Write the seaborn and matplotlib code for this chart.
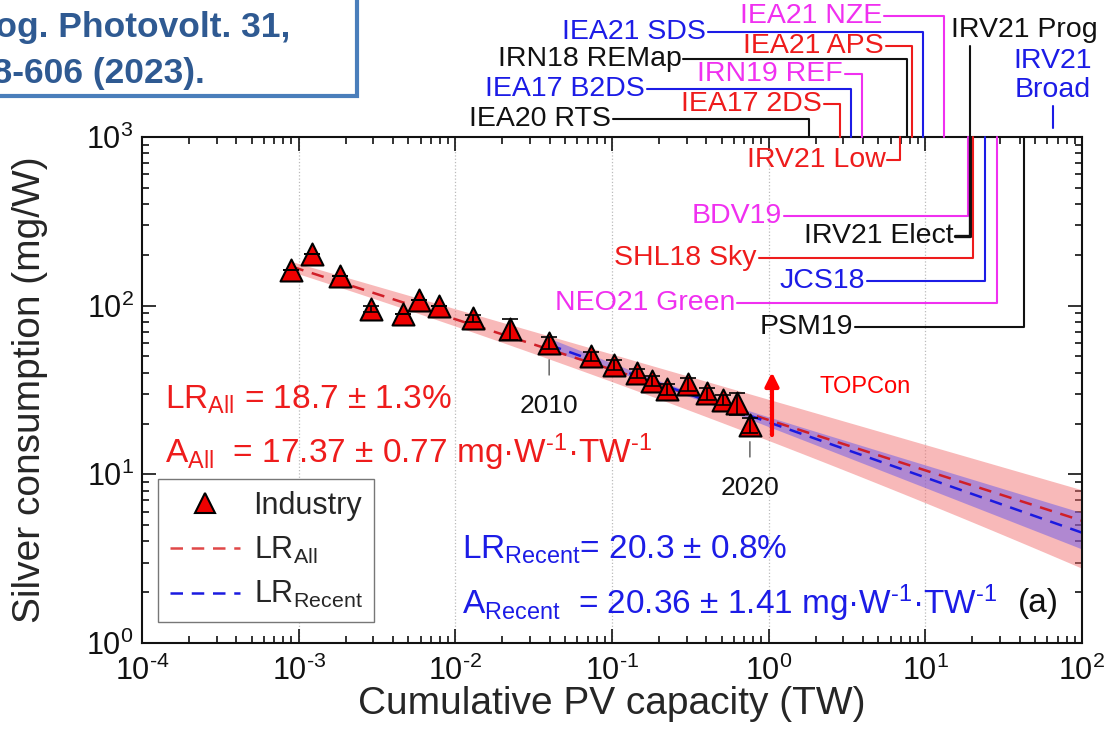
import numpy as np
import pandas as pd
import seaborn as sns
import matplotlib.pyplot as plt
from matplotlib import transforms
from matplotlib.lines import Line2D
from matplotlib.patches import Rectangle
from matplotlib.ticker import FuncFormatter, NullFormatter

# ---------------------------------------------------------------------------
# Industry data: cumulative PV capacity (TW) vs. silver consumption (mg/W)
# ---------------------------------------------------------------------------
capacity_tw = [9.0e-4, 1.21e-3, 1.84e-3, 2.89e-3, 4.61e-3, 5.89e-3, 7.89e-3,
               0.0130, 0.0223, 0.0397, 0.0733, 0.103, 0.144, 0.179, 0.225,
               0.306, 0.402, 0.513, 0.624, 0.759]
silver_mg_w = [162, 202, 150, 96, 89, 108, 99, 84, 73, 60, 50, 44.5, 39.7,
               35.9, 31.9, 34.3, 30.2, 27.6, 26.4, 19.6]
silver_err = [0, 0, 0, 4, 0, 0, 0, 4, 10, 5, 3, 3, 2.5, 2.5, 2.5, 3, 2.5, 2,
              4, 2]
year_labels = {2010: 0.0397, 2020: 0.759}

# Learning-rate fits
LR_ALL, LR_ALL_ERR = 18.7, 1.3
A_ALL, A_ALL_ERR = 17.37, 0.77
LR_RECENT, LR_RECENT_ERR = 20.3, 0.8
A_RECENT, A_RECENT_ERR = 20.36, 1.41
ALL_LEVEL_1TW = 21.0          # level of the all-data fit line at 1 TW
ALL_FIT_START = 9.0e-4        # first point of the all-data fit (TW)
RECENT_FIT_START = 0.0397     # first point of the recent fit (TW)
FIT_END = 100.0

# TOPCon marker
TOPCON_TW = 1.05
TOPCON_FROM, TOPCON_TO = 17.1, 40.3

# Scenario projections of cumulative PV capacity (TW)
scenario_names = ["IEA20 RTS", "IEA17 2DS", "IEA17 B2DS", "IRN19 REF",
                  "IRV21 Low", "IRN18 REMap", "IEA21 APS", "IEA21 SDS",
                  "IEA21 NZE", "BDV19", "IRV21 Prog", "IRV21 Elect",
                  "SHL18 Sky", "JCS18", "NEO21 Green", "PSM19", "IRV21 Broad"]
scenario_tw = [1.82, 2.85, 3.34, 3.97, 6.88, 7.67, 8.17, 9.73, 13.1, 18.7,
               19.4, 19.4, 20.1, 24.0, 28.7, 42.5, 65.0]

RED = "#ee1c1c"
BLUE = "#1c1ce6"
MAGENTA = "#f030f0"
BLACK = "#111111"
HY = "\u2010"  # short hyphen used in exponents
scenario_colors = [BLACK, RED, BLUE, MAGENTA, RED, BLACK, RED, BLUE, MAGENTA,
                   MAGENTA, BLACK, BLACK, RED, BLUE, MAGENTA, BLACK, BLUE]

# label placement: (text right edge in axes x, label height in axes y)
scenario_layout = {
    "IEA21 NZE": (0.787, 1.240), "IEA21 SDS": (0.600, 1.208),
    "IEA21 APS": (0.789, 1.180), "IRN18 REMap": (0.574, 1.154),
    "IRN19 REF": (0.746, 1.124), "IEA17 B2DS": (0.535, 1.095),
    "IEA17 2DS": (0.723, 1.065), "IEA20 RTS": (0.499, 1.0355),
    "IRV21 Low": (0.791, 0.955), "BDV19": (0.681, 0.844),
    "IRV21 Elect": (0.863, 0.804), "SHL18 Sky": (0.654, 0.761),
    "JCS18": (0.769, 0.715), "NEO21 Green": (0.631, 0.672),
    "PSM19": (0.757, 0.625),
}

# ---------------------------------------------------------------------------
sns.set_style("ticks")
plt.rcParams["font.family"] = ["Liberation Sans", "DejaVu Sans"]
plt.rcParams["mathtext.fontset"] = "custom"
plt.rcParams["mathtext.rm"] = "Liberation Sans"
plt.rcParams["mathtext.it"] = "Liberation Sans:italic"
plt.rcParams["mathtext.bf"] = "Liberation Sans:bold"
plt.rcParams["axes.unicode_minus"] = False

fig = plt.figure(figsize=(11.2, 7.35), dpi=100)
ax = fig.add_axes([142 / 1120, 92 / 735, 940 / 1120, 506 / 735])
ax.set_xscale("log")
ax.set_yscale("log")
ax.set_xlim(1e-4, 1e2)
ax.set_ylim(1, 1e3)

# fitted learning curves and uncertainty bands
b_all = -np.log2(1 - LR_ALL / 100)
b_rec = -np.log2(1 - LR_RECENT / 100)

x_all = np.logspace(np.log10(ALL_FIT_START), np.log10(FIT_END), 200)
y_all = ALL_LEVEL_1TW * x_all ** (-b_all)
d_all = np.log10(x_all) - np.log10(ALL_FIT_START)
up_all = 0.03 + 0.0303 * d_all
lo_all = 0.03 + 0.0099 * d_all ** 2
ax.fill_between(x_all, y_all * 10 ** up_all, y_all / 10 ** lo_all,
                color="#f26a6a", alpha=0.47, lw=0, zorder=1)

x_rec = np.logspace(np.log10(RECENT_FIT_START), np.log10(FIT_END), 200)
y_rec = A_RECENT * x_rec ** (-b_rec)
w_rec = np.sqrt(0.015 ** 2 + (0.041 * (np.log10(x_rec) + 0.6)) ** 2)
ax.fill_between(x_rec, y_rec * 10 ** (w_rec * 1.1), y_rec / 10 ** (w_rec * 0.9),
                color="#5a4ef0", alpha=0.45, lw=0, zorder=1.5)

dash = (0, (5, 3.5))
sns.lineplot(x=x_all, y=y_all, color="#d01f28", lw=1.8, linestyle=dash,
             sort=False, ax=ax, zorder=2)
sns.lineplot(x=x_rec, y=y_rec, color="#1a1ae0", lw=1.8, linestyle=dash,
             sort=False, ax=ax, zorder=2.5)

# industry points
df = pd.DataFrame({"capacity": capacity_tw, "silver": silver_mg_w,
                   "err": silver_err})
sns.scatterplot(data=df, x="capacity", y="silver", marker="^", s=250,
                color="#ee0000", edgecolor="black", linewidth=1.5,
                zorder=5, ax=ax, legend=False)
ax.errorbar(df["capacity"], df["silver"], yerr=df["err"], fmt="none",
            ecolor="black", elinewidth=1.2, capsize=6, capthick=1.2, zorder=6)

# year annotations
for year, cap in year_labels.items():
    yv = df.loc[df["capacity"] == cap, "silver"].iloc[0]
    ax.annotate(str(year), xy=(cap, yv), xytext=(0, -45),
                textcoords="offset points", ha="center", va="center",
                fontsize=19, color=BLACK,
                arrowprops=dict(arrowstyle="-", color="#555555", lw=1,
                                shrinkA=11, shrinkB=12))

# TOPCon arrow
ax.annotate("", xy=(TOPCON_TW, TOPCON_TO), xytext=(TOPCON_TW, TOPCON_FROM),
            arrowprops=dict(arrowstyle="-|>", color="red", lw=3,
                            mutation_scale=20, shrinkA=0, shrinkB=0),
            zorder=7)
ax.text(0.721, 0.506, "TOPCon", transform=ax.transAxes, color="red",
        fontsize=17, ha="left", va="center")

# scenario markers
blend = transforms.blended_transform_factory(ax.transData, ax.transAxes)


def axes_x_to_data(fx):
    disp = ax.transAxes.transform((fx, 0))
    return ax.transData.inverted().transform(disp)[0]


label_fs = 20.5
for name, cap, col in zip(scenario_names, scenario_tw, scenario_colors):
    lw = 2.4 if name == "IRV21 Elect" else 1.5
    if name in scenario_layout:
        tx, ty = scenario_layout[name]
        ax.text(tx, ty, name, transform=ax.transAxes, ha="right",
                va="center", color=col, fontsize=label_fs, zorder=8)
        x0 = axes_x_to_data(tx + 0.002)
        ax.plot([x0, cap, cap], [ty, ty, 1.0], color=col, lw=lw,
                transform=blend, clip_on=False, zorder=7)
    elif name == "IRV21 Prog":
        ax.text(0.939, 1.212, name, transform=ax.transAxes, ha="center",
                va="center", color=col, fontsize=label_fs)
        ax.plot([cap, cap], [1.180, 1.0], color=col, lw=lw, transform=blend,
                clip_on=False)
    elif name == "IRV21 Broad":
        ax.text(0.969, 1.122, "IRV21\nBroad", transform=ax.transAxes,
                ha="center", va="center", color=col, fontsize=label_fs,
                linespacing=1.15)
        ax.plot([cap, cap], [1.062, 1.018], color=col, lw=lw,
                transform=blend, clip_on=False)

# fit statistics
stat_fs = 24
exp_m1 = r"$^{\rm " + HY + "1}$"
ax.text(0.0245, 0.48, r"LR$_{\rm All}$ = 18.7 $\pm$ 1.3%",
        transform=ax.transAxes, color=RED, fontsize=stat_fs, va="center")
ax.text(0.0245, 0.377,
        r"A$_{\rm All}$  = 17.37 ± 0.77 mg·W" + exp_m1 + "·TW" + exp_m1,
        transform=ax.transAxes, color=RED, fontsize=stat_fs, va="center")
ax.text(0.340, 0.184, r"LR$_{\rm Recent}$= 20.3 $\pm$ 0.8%",
        transform=ax.transAxes, color=BLUE, fontsize=stat_fs, va="center")
ax.text(0.340, 0.079,
        r"A$_{\rm Recent}$  = 20.36 ± 1.41 mg·W" + exp_m1 + "·TW" + exp_m1,
        transform=ax.transAxes, color=BLUE, fontsize=stat_fs, va="center")
ax.text(0.932, 0.079, "(a)", transform=ax.transAxes, color=BLACK,
        fontsize=stat_fs, va="center")

# grid, ticks, labels
for xv in [1e-3, 1e-2, 1e-1, 1e0, 1e1]:
    ax.axvline(xv, color="#bbbbbb", lw=0.9, ls=":", zorder=0)


def decade_label(v, pos):
    e = int(round(np.log10(v)))
    return r"$10^{" + str(e).replace("-", HY) + "}$"


for axis in (ax.xaxis, ax.yaxis):
    axis.set_major_formatter(FuncFormatter(decade_label))
    axis.set_minor_formatter(NullFormatter())

ax.tick_params(which="both", direction="in", top=True, right=True,
               width=1.2, colors=BLACK)
ax.tick_params(which="major", length=10, labelsize=22)
ax.tick_params(axis="x", which="major", pad=9)
ax.tick_params(axis="y", which="major", pad=6)
ax.tick_params(which="minor", length=5)
for s in ax.spines.values():
    s.set_linewidth(1.5)
    s.set_color(BLACK)

ax.set_xlabel("Cumulative PV capacity (TW)", fontsize=28)
ax.set_ylabel("Silver consumption (mg/W)", fontsize=28)
ax.xaxis.set_label_coords(0.5, -0.085)
ax.yaxis.set_label_coords(-0.1, 0.5)

# legend
handles = [
    Line2D([], [], marker="^", color="none", markerfacecolor="#ee0000",
           markeredgecolor="black", markeredgewidth=1.5, markersize=15),
    Line2D([], [], color="#e04848", lw=1.8, linestyle=dash),
    Line2D([], [], color="#1a1ae0", lw=1.8, linestyle=dash),
]
leg = ax.legend(handles, ["Industry", r"LR$_{\rm All}$", r"LR$_{\rm Recent}$"],
                loc="lower left", bbox_to_anchor=(0.017, 0.0415),
                borderaxespad=0, fontsize=22, frameon=True, fancybox=False,
                edgecolor="#777777", framealpha=1, handlelength=2.3,
                labelspacing=0.45, borderpad=0.38, handletextpad=0.45)
leg.get_frame().set_linewidth(1.0)
leg.set_zorder(9)

# citation box in the top-left corner
fig.patches.append(Rectangle((-0.02, 1 - 96 / 735), 0.02 + 357 / 1120,
                             0.2, transform=fig.transFigure, facecolor="white",
                             edgecolor="#4a7ebb", lw=3, zorder=10))
fig.text(290 / 1120, 1 - 28 / 735, "Prog. Photovolt. 31,", ha="right",
         va="center", fontsize=25.5, fontweight="bold", color="#2f5a92",
         zorder=11)
fig.text(205 / 1120, 1 - 73 / 735, "598-606 (2023).", ha="right",
         va="center", fontsize=25.5, fontweight="bold", color="#2f5a92",
         zorder=11)

fig.savefig("out.png", dpi=100)
